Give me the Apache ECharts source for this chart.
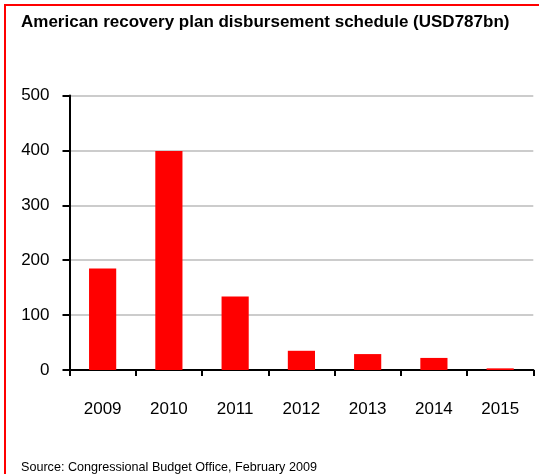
<!DOCTYPE html>
<html><head><meta charset="utf-8">
<script src="https://cdn.jsdelivr.net/npm/echarts@6/dist/echarts.min.js"></script>
<style>html,body{margin:0;padding:0;background:#fff}#c{width:539px;height:474px}</style>
</head><body><div id="c"></div>
<script>
const categories = ['2009','2010','2011','2012','2013','2014','2015'];
const disbursement = [185, 399, 134, 35, 29, 22, 3];
const yTicks = [0, 100, 200, 300, 400, 500];
const titleText = 'American recovery plan disbursement schedule (USD787bn)';
const sourceText = 'Source: Congressional Budget Office, February 2009';

const chart = echarts.init(document.getElementById('c'), null, {renderer:'canvas'});
chart.setOption({
  animation: false,
  backgroundColor: '#fff',
  title: {
    text: titleText, left: 16, top: 9,
    textStyle: {fontFamily: 'Liberation Sans, Arial', fontWeight: 'bold', fontSize: 17, color: '#000'}
  },
  graphic: [
    {type:'rect', shape:{x:5, y:5, width:560, height:500}, style:{fill:'none', stroke:'#ff0000', lineWidth:2}, silent:true},
    {type:'text', left: 21, top: 461, style:{text: sourceText, fontFamily:'Liberation Sans, Arial', fontSize: 12.6, fill:'#000'}}
  ],
  grid: {left: 69.5, right: 5.7, top: 95.5, bottom: 104, containLabel: false},
  xAxis: {
    type: 'category', data: categories,
    axisLine: {lineStyle: {color: '#000', width: 2}},
    axisTick: {show: true, length: 6, lineStyle: {color: '#000', width: 2}, alignWithLabel: false},
    axisLabel: {margin: 31, fontSize: 17, color: '#000', fontFamily: 'Liberation Sans, Arial'}
  },
  yAxis: {
    type: 'value', min: yTicks[0], max: yTicks[yTicks.length-1], interval: 100,
    axisLine: {show: true, lineStyle: {color: '#000', width: 2}},
    axisTick: {show: true, length: 7, lineStyle: {color: '#000', width: 2}},
    axisLabel: {margin: 20, fontSize: 17, color: '#000', fontFamily: 'Liberation Sans, Arial'},
    splitLine: {show: true, lineStyle: {color: '#cccccc', width: 2}}
  },
  series: [{
    type: 'bar', data: disbursement, barWidth: '41%',
    itemStyle: {color: '#ff0000'}
  }]
});
</script></body></html>
